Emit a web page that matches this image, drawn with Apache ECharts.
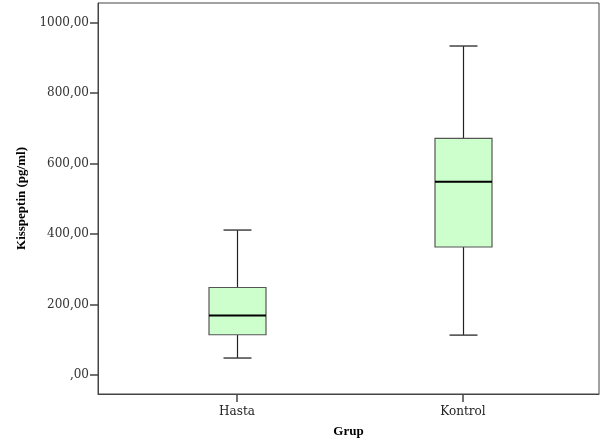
<!DOCTYPE html>
<html>
<head>
<meta charset="utf-8">
<style>
html, body { margin: 0; padding: 0; background: #fff; }
#chart { width: 605px; height: 448px; }
</style>
<script src="https://cdn.jsdelivr.net/npm/echarts@6/dist/echarts.min.js"></script>
</head>
<body>
<div id="chart"></div>
<script>
// groups and five-number summaries
var categories = ['Hasta', 'Kontrol'];
var mins    = [48, 113];
var q1s     = [114, 363];
var medians = [169, 548];
var q3s     = [248, 671];
var maxs    = [411, 933];
var yTicks  = [0, 200, 400, 600, 800, 1000];

var chart = echarts.init(document.getElementById('chart'));

var boxData = categories.map(function (c, i) {
    return [i + 1, mins[i], q1s[i], medians[i], q3s[i], maxs[i]];
});

function fmt(v) {
    if (v === 0) return ',00';
    return v.toFixed(2).replace('.', ',');
}

function renderBox(params, api) {
    var x = api.value(0);
    var pMin = api.coord([x, api.value(1)]);
    var pQ1 = api.coord([x, api.value(2)]);
    var pMed = api.coord([x, api.value(3)]);
    var pQ3 = api.coord([x, api.value(4)]);
    var pMax = api.coord([x, api.value(5)]);
    var cx = Math.round(pMed[0]) + 0.5;
    var half = 28.5, cap = 14;
    return {
        type: 'group',
        children: [
            { type: 'line', shape: { x1: cx, y1: pQ3[1], x2: cx, y2: pMax[1] },
              style: { stroke: '#222', lineWidth: 1.2 } },
            { type: 'line', shape: { x1: cx, y1: pQ1[1], x2: cx, y2: pMin[1] },
              style: { stroke: '#222', lineWidth: 1.2 } },
            { type: 'line', shape: { x1: cx - cap, y1: pMax[1], x2: cx + cap, y2: pMax[1] },
              style: { stroke: '#444', lineWidth: 1.5 } },
            { type: 'line', shape: { x1: cx - cap, y1: pMin[1], x2: cx + cap, y2: pMin[1] },
              style: { stroke: '#444', lineWidth: 1.5 } },
            { type: 'rect', shape: { x: cx - half, y: pQ3[1], width: half * 2, height: pQ1[1] - pQ3[1] },
              style: { fill: '#ccffcc', stroke: '#555', lineWidth: 1.2 } },
            { type: 'line', shape: { x1: cx - half, y1: pMed[1], x2: cx + half, y2: pMed[1] },
              style: { stroke: '#000', lineWidth: 2 } }
        ]
    };
}

chart.setOption({
    animation: false,
    grid: {
        left: 98, right: 6, top: 3, bottom: 54,
        show: true, borderColor: '#444', borderWidth: 1, backgroundColor: '#fff'
    },
    xAxis: {
        type: 'value',
        min: 0.385, max: 2.602,
        name: 'Grup',
        nameLocation: 'middle',
        nameGap: 31,
        nameTextStyle: { fontFamily: 'Liberation Serif', fontWeight: 'bold', fontSize: 13, color: '#000' },
        splitLine: { show: false },
        axisLine: { show: true, onZero: false, lineStyle: { color: '#444', width: 1 } },
        axisTick: { show: true, length: 8, customValues: [1, 2], lineStyle: { color: '#444', width: 1.5 } },
        axisLabel: {
            customValues: [1, 2],
            margin: 12,
            fontFamily: 'DejaVu Serif', fontSize: 12, color: '#222',
            formatter: function (v) { return categories[Math.round(v) - 1] || ''; }
        }
    },
    yAxis: {
        type: 'value',
        min: -54, max: 1055,
        name: 'Kisspeptin (pg/ml)',
        nameLocation: 'middle',
        nameGap: 65,
        nameTextStyle: { fontFamily: 'Liberation Serif', fontWeight: 'bold', fontSize: 13, color: '#000' },
        splitLine: { show: false },
        axisLine: { show: true, onZero: false, lineStyle: { color: '#444', width: 1 } },
        axisTick: { show: true, length: 8, customValues: yTicks, lineStyle: { color: '#444', width: 1.5 } },
        axisLabel: {
            customValues: yTicks,
            margin: 9,
            fontFamily: 'DejaVu Serif', fontSize: 12, color: '#333',
            formatter: fmt
        }
    },
    series: [{
        type: 'custom',
        renderItem: renderBox,
        encode: { x: 0, y: [1, 2, 3, 4, 5] },
        data: boxData
    }]
});
</script>
</body>
</html>
